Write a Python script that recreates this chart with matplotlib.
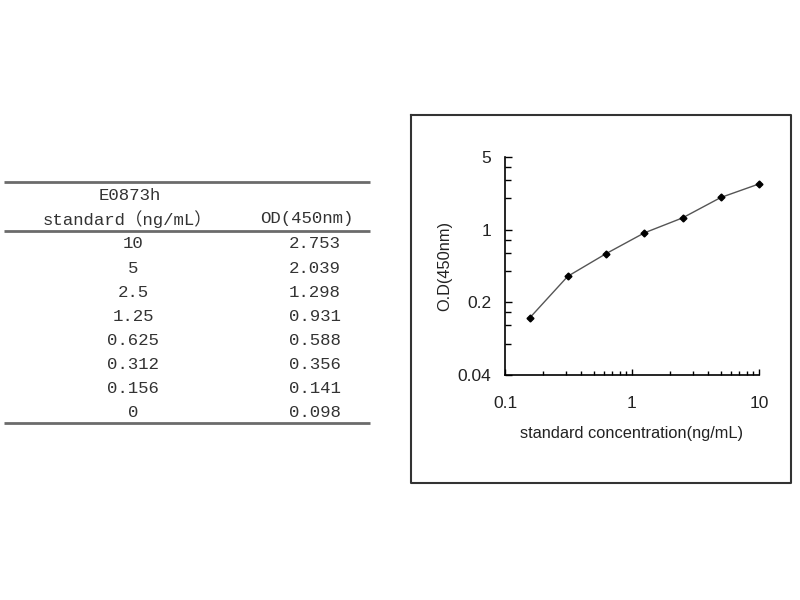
import numpy as np
import matplotlib
matplotlib.use("Agg")
import matplotlib.pyplot as plt
from matplotlib.ticker import LogLocator, FixedLocator, FixedFormatter, NullFormatter

# table data (standard curve)
conc_labels = ["10", "5", "2.5", "1.25", "0.625", "0.312", "0.156", "0"]
od_labels = ["2.753", "2.039", "1.298", "0.931", "0.588", "0.356", "0.141", "0.098"]
conc = [10, 5, 2.5, 1.25, 0.625, 0.312, 0.156, 0]
od = [2.753, 2.039, 1.298, 0.931, 0.588, 0.356, 0.141, 0.098]

x_ticks = [0.1, 1, 10]
y_ticks = [0.04, 0.2, 1, 5]

W, H = 800, 600
fig = plt.figure(figsize=(W / 100, H / 100), dpi=100)
fig.patch.set_facecolor("white")

# overlay in pixel coordinates for the table and the frame
bg = fig.add_axes([0, 0, 1, 1])
bg.set_xlim(0, W)
bg.set_ylim(H, 0)
bg.axis("off")

tfont = ["Liberation Mono", "Noto Sans CJK SC"]
tcol = "#333333"
rule = "#6b6b6b"
for y in (182, 231, 423):
    bg.plot([4, 370], [y, y], color=rule, lw=2, solid_capstyle="butt")

bg.text(130, 196, "E0873h", ha="center", va="center", fontsize=12.5,
        family=tfont, color=tcol)
bg.text(127, 219, "standard（ng/mL）", ha="center", va="center", fontsize=12.5,
        family=tfont, color=tcol)
bg.text(307, 219, "OD(450nm)", ha="center", va="center", fontsize=12.5,
        family=tfont, color=tcol)

row0, step = 244, 24.1
for i, (c, v) in enumerate(zip(conc_labels, od_labels)):
    y = row0 + i * step
    bg.text(133, y, c, ha="center", va="center", fontsize=12.5,
            family=tfont, color=tcol)
    bg.text(315, y, v, ha="center", va="center", fontsize=12.5,
            family=tfont, color=tcol)

# chart frame
bg.plot([411, 791, 791, 411, 411], [115, 115, 483, 483, 115],
        color="#333333", lw=1.5)

# standard curve
ax = fig.add_axes([505 / W, 1 - 375 / H, 254 / W, 218 / H])
xs = [c for c in conc if c > 0]
ys = [v for c, v in zip(conc, od) if c > 0]
ax.plot(xs, ys, color="#555555", lw=1.0, marker="D", markersize=3.5,
        markerfacecolor="black", markeredgecolor="black", clip_on=False)

ax.set_xscale("log")
ax.set_yscale("log", base=5)
ax.set_xlim(0.1, 10)
ax.set_ylim(0.04, 5)

ax.xaxis.set_major_locator(FixedLocator(x_ticks))
ax.xaxis.set_major_formatter(FixedFormatter([str(t) for t in x_ticks]))
ax.xaxis.set_minor_locator(LogLocator(base=10, subs=np.arange(2, 10)))
ax.xaxis.set_minor_formatter(NullFormatter())
ax.yaxis.set_major_locator(FixedLocator(y_ticks))
ax.yaxis.set_major_formatter(FixedFormatter([str(t) for t in y_ticks]))
ax.yaxis.set_minor_locator(LogLocator(base=5, subs=[2, 3, 4]))
ax.yaxis.set_minor_formatter(NullFormatter())

for s in ("top", "right"):
    ax.spines[s].set_visible(False)
for s in ("left", "bottom"):
    ax.spines[s].set_linewidth(1.2)
    ax.spines[s].set_color("black")

lfont = "Liberation Sans"
ax.tick_params(axis="y", which="major", direction="in", length=5, width=1,
               pad=10, labelsize=12.5)
ax.tick_params(axis="y", which="minor", direction="in", length=4, width=1)
ax.tick_params(axis="x", which="major", direction="in", length=4, width=1,
               pad=15, labelsize=12.5)
ax.tick_params(axis="x", which="minor", direction="in", length=3, width=1)
for lab in ax.get_xticklabels() + ax.get_yticklabels():
    lab.set_family(lfont)
    lab.set_color("#222222")

ax.set_xlabel("standard concentration(ng/mL)", family=lfont, fontsize=11.8,
              color="#222222", labelpad=11)
ax.set_ylabel("O.D(450nm)", family=lfont, fontsize=11.8, color="#222222",
              labelpad=4)

fig.savefig("out.png", dpi=100, facecolor="white")
